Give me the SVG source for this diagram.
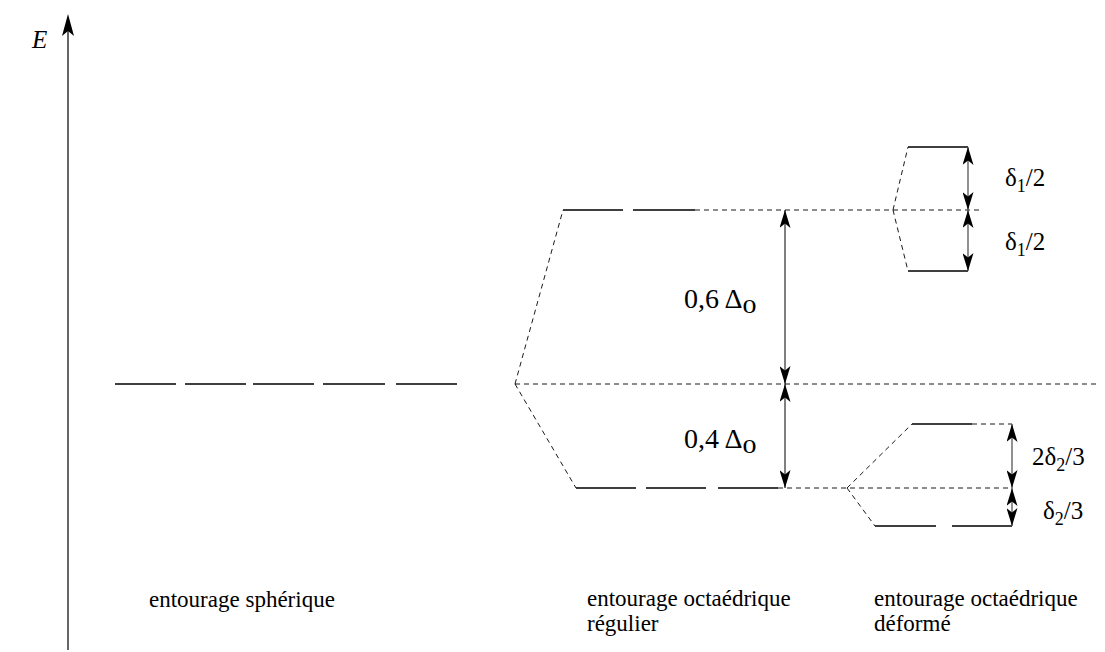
<svg xmlns="http://www.w3.org/2000/svg" width="1105" height="652" viewBox="0 0 1105 652" font-family="'Liberation Serif', 'Times New Roman', Times, serif">
  <style>
    .lvl { stroke: #000; stroke-width: 1.6; fill: none; }
    .dash { stroke: #000; stroke-width: 0.9; stroke-dasharray: 5 4; fill: none; }
    .arr { stroke: #000; stroke-width: 1; fill: none; marker-start: url(#head); marker-end: url(#head); }
    .arr-g { stroke: #555; stroke-width: 1.3; fill: none; marker-start: url(#head); marker-end: url(#head); }
    text { font-family: 'Liberation Serif', 'Times New Roman', Times, serif; fill: #000; }
    .lab { font-size: 23px; }
    .val { font-size: 28px; }
    .dl { font-size: 25px; }
    .sub { font-size: 18px; }
  </style>
  <defs>
    <!-- barbed arrowhead, tip on the path end -->
    <marker id="head" viewBox="0 0 18 11" refX="18" refY="5.5" markerWidth="18" markerHeight="11" markerUnits="userSpaceOnUse" orient="auto-start-reverse">
      <path d="M18,5.5 L0,0 L4.5,5.5 L0,11 z" fill="#000"/>
    </marker>
  </defs>

  <!-- energy axis -->
  <g id="axis">
    <line x1="68" y1="650" x2="68" y2="24" stroke="#000" stroke-width="1.2"/>
    <path d="M68,14 L74,36 L68,31 L62,36 z" fill="#000"/>
    <text x="32" y="48" font-size="25" font-style="italic">E</text>
  </g>

  <!-- spherical environment: five degenerate levels -->
  <g id="spherique">
    <path class="lvl" d="M115,384 H176 M185,384 H246 M253,384 H314 M323,384 H385 M396,384 H457"/>
    <text class="lab" x="149" y="607">entourage sphérique</text>
  </g>

  <!-- regular octahedral environment -->
  <g id="octa-regulier">
    <path class="lvl" d="M563,210 H623 M633,210 H695"/>
    <path class="lvl" d="M576,488 H636 M646,488 H706 M718,488 H778"/>
    <text class="lab" x="587" y="606">entourage octaédrique</text>
    <text class="lab" x="587" y="631">régulier</text>
  </g>

  <!-- distorted octahedral environment -->
  <g id="octa-deforme">
    <path class="lvl" d="M908,147 H968 M908,271 H968"/>
    <path class="lvl" d="M912,424 H972 M875,526 H936 M952,526 H1012"/>
    <text class="lab" x="874" y="606">entourage octaédrique</text>
    <text class="lab" x="874" y="631">déformé</text>
  </g>

  <!-- correlation lines and splitting arrows -->
  <g id="connectors">
    <path class="dash" d="M515,384 H1100"/>
    <path class="dash" d="M515,384 L563,210 M515,384 L576,488"/>
    <path class="dash" d="M695,210 H980"/>
    <path class="dash" d="M778,488 H1012"/>
    <path class="dash" d="M893,210 L908,147 M893,210 L908,271"/>
    <path class="dash" d="M847,488 L912,424 M847,488 L875,526"/>
    <path class="dash" d="M972,424 H1012"/>

    <line class="arr" x1="785" y1="210" x2="785" y2="384"/>
    <line class="arr" x1="785" y1="384" x2="785" y2="488"/>
    <line class="arr-g" x1="968" y1="147" x2="968" y2="210"/>
    <line class="arr-g" x1="968" y1="210" x2="968" y2="271"/>
    <line class="arr-g" x1="1012" y1="424" x2="1012" y2="488"/>
    <line class="arr-g" x1="1012" y1="488" x2="1012" y2="526"/>
  </g>

  <g id="labels">
    <text class="val" x="684" y="308">0,6 Δ<tspan dy="5">o</tspan></text>
    <text class="val" x="684" y="448">0,4 Δ<tspan dy="5">o</tspan></text>
    <text class="dl" x="1005" y="186">δ<tspan class="sub" dy="6">1</tspan><tspan dy="-6">/2</tspan></text>
    <text class="dl" x="1005" y="250">δ<tspan class="sub" dy="6">1</tspan><tspan dy="-6">/2</tspan></text>
    <text class="dl" x="1032" y="465">2δ<tspan class="sub" dy="6">2</tspan><tspan dy="-6">/3</tspan></text>
    <text class="dl" x="1043" y="519">δ<tspan class="sub" dy="6">2</tspan><tspan dy="-6">/3</tspan></text>
  </g>
</svg>
